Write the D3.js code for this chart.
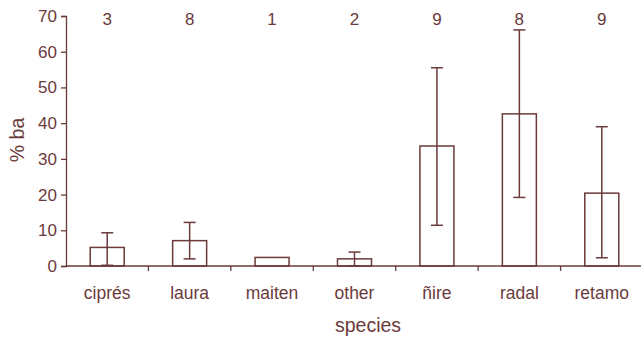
<!DOCTYPE html>
<html>
<head>
<meta charset="utf-8">
<script src="https://cdn.jsdelivr.net/npm/d3@7"></script>
<style>
  body { margin: 0; background: #fff; }
  text { font-family: "Liberation Sans", Arial, sans-serif; fill: #6b3a3a; }
</style>
</head>
<body>
<svg id="chart" width="641" height="337"></svg>
<script>
// species and their mean % basal area, with error bar ends
const species = ['ciprés', 'laura', 'maiten', 'other', 'ñire', 'radal', 'retamo'];
const meanBa = [5.2, 7.1, 2.4, 2.0, 33.6, 42.6, 20.4];
const upperBa = [9.3, 12.2, null, 3.9, 55.5, 66.1, 39.0];
const lowerBa = [0.2, 2.0, null, 0.0, 11.4, 19.2, 2.3];
const counts = [3, 8, 1, 2, 9, 8, 9];
const yTicks = [0, 10, 20, 30, 40, 50, 60, 70];

const ink = '#6b3a3a';

let svg = d3.select('#chart');
const margin = { left: 66, top: 16, bottom: 71 };
const height = +svg.attr('height');

let x = d3.scaleBand()
  .domain(species)
  .range([margin.left, 643])
  .paddingInner(0)
  .paddingOuter(0);

let y = d3.scaleLinear()
  .domain([0, 70])
  .range([height - margin.bottom, margin.top]);

const barW = 34;
const capW = 12;

// axes
let yAxis = svg.append('g')
  .attr('transform', 'translate(' + margin.left + ',0)')
  .call(d3.axisLeft(y).tickValues(yTicks).tickSize(5).tickPadding(4));

yAxis.select('.domain').attr('stroke', ink).attr('stroke-width', 1.3);
yAxis.selectAll('.tick line').attr('stroke', ink).attr('stroke-width', 1.3);
yAxis.selectAll('.tick text')
  .attr('fill', ink)
  .style('font-size', '17px')
  .style('font-family', '"Liberation Sans", Arial, sans-serif');

let base = y(0);
svg.append('line')
  .attr('x1', margin.left).attr('x2', 641)
  .attr('y1', base).attr('y2', base)
  .attr('stroke', ink).attr('stroke-width', 1.3);

// x ticks sit between the bands
svg.selectAll('.xtick')
  .data(species.slice(1))
  .enter()
  .append('line')
  .attr('class', 'xtick')
  .attr('x1', (d) => x(d)).attr('x2', (d) => x(d))
  .attr('y1', base).attr('y2', base + 5)
  .attr('stroke', ink).attr('stroke-width', 1.3);

svg.selectAll('.xlabel')
  .data(species)
  .enter()
  .append('text')
  .attr('class', 'xlabel')
  .attr('x', (d) => x(d) + x.bandwidth() / 2)
  .attr('y', 299)
  .attr('text-anchor', 'middle')
  .style('font-size', '17.5px')
  .text((d) => d);

// bars
svg.selectAll('.bar')
  .data(species)
  .enter()
  .append('rect')
  .attr('class', 'bar')
  .attr('x', (d) => x(d) + x.bandwidth() / 2 - barW / 2)
  .attr('y', (d, i) => y(meanBa[i]))
  .attr('width', barW)
  .attr('height', (d, i) => base - y(meanBa[i]))
  .attr('fill', 'none')
  .attr('stroke', ink)
  .attr('stroke-width', 1.5);

// error bars
let err = svg.selectAll('.err')
  .data(species.filter((d, i) => upperBa[i] !== null))
  .enter()
  .append('g')
  .attr('class', 'err')
  .attr('stroke', ink)
  .attr('stroke-width', 1.5);

err.append('line')
  .attr('x1', (d) => x(d) + x.bandwidth() / 2)
  .attr('x2', (d) => x(d) + x.bandwidth() / 2)
  .attr('y1', (d) => y(upperBa[species.indexOf(d)]))
  .attr('y2', (d) => y(lowerBa[species.indexOf(d)]));

err.append('line')
  .attr('x1', (d) => x(d) + x.bandwidth() / 2 - capW / 2)
  .attr('x2', (d) => x(d) + x.bandwidth() / 2 + capW / 2)
  .attr('y1', (d) => y(upperBa[species.indexOf(d)]))
  .attr('y2', (d) => y(upperBa[species.indexOf(d)]));

err.append('line')
  .attr('x1', (d) => x(d) + x.bandwidth() / 2 - capW / 2)
  .attr('x2', (d) => x(d) + x.bandwidth() / 2 + capW / 2)
  .attr('y1', (d) => y(lowerBa[species.indexOf(d)]))
  .attr('y2', (d) => y(lowerBa[species.indexOf(d)]));

// sample counts along the top
svg.selectAll('.count')
  .data(species)
  .enter()
  .append('text')
  .attr('class', 'count')
  .attr('x', (d) => x(d) + x.bandwidth() / 2)
  .attr('y', 25)
  .attr('text-anchor', 'middle')
  .style('font-size', '17px')
  .text((d, i) => counts[i]);

// axis titles
svg.append('text')
  .attr('x', 368)
  .attr('y', 332)
  .attr('text-anchor', 'middle')
  .style('font-size', '19.5px')
  .text('species');

svg.append('text')
  .attr('transform', 'translate(24,140) rotate(-90)')
  .attr('text-anchor', 'middle')
  .style('font-size', '19.5px')
  .text('% ba');
</script>
</body>
</html>
